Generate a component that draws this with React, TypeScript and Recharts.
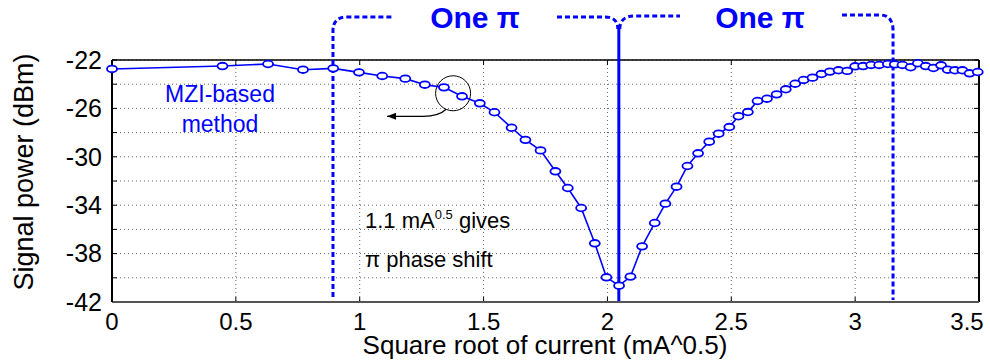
import React from 'react';
import { LineChart, Line, XAxis, YAxis, CartesianGrid, Customized } from 'recharts';

// measured sweep: sqrt of heater current vs. output power
const sqrtCurrent = [
  0, 0.446, 0.63, 0.771, 0.893, 0.997, 1.091, 1.184, 1.263, 1.34, 1.413, 1.485, 1.544, 1.613,
  1.669, 1.73, 1.79, 1.84, 1.894, 1.949, 1.996, 2.047, 2.093, 2.14, 2.191, 2.234, 2.279, 2.323,
  2.366, 2.411, 2.449, 2.492, 2.529, 2.567, 2.606, 2.644, 2.683, 2.72, 2.758, 2.792, 2.828, 2.864,
  2.898, 2.933, 2.968, 3.0, 3.032, 3.065, 3.097, 3.132, 3.16, 3.191, 3.224, 3.253, 3.285, 3.316,
  3.347, 3.374, 3.403, 3.433, 3.462, 3.495,
];
const signalDbm = [
  -22.74, -22.5, -22.33, -22.8, -22.69, -23.02, -23.32, -23.54, -24.04, -24.26, -25.0, -25.58, -26.32, -27.6,
  -28.6, -29.47, -31.2, -32.58, -34.23, -37.15, -39.96, -40.65, -39.9, -37.4, -35.47, -33.87, -32.47, -30.76,
  -29.71, -28.75, -28.09, -27.54, -26.65, -26.3, -25.39, -25.2, -24.84, -24.42, -23.96, -23.65, -23.46, -23.16,
  -22.96, -22.85, -22.9, -22.52, -22.5, -22.41, -22.41, -22.33, -22.36, -22.41, -22.6, -22.27, -22.5, -22.66,
  -22.44, -22.8, -22.85, -22.85, -23.1, -22.99,
];
const xTicks = [0, 0.5, 1, 1.5, 2, 2.5, 3, 3.5];
const yTicks = [-42, -40, -38, -36, -34, -32, -30, -28, -26, -24, -22];
const yLabelled = [-42, -38, -34, -30, -26, -22];
// bracket edges: start of sweep, null point, end of the second pi
const piMarks = [0.892, 2.046, 3.153];
const zoomSpot = { x: 1.377, y: -24.75 };

const data = sqrtCurrent.map((x, i) => ({ x, p: signalDbm[i] }));

const W = 990;
const H = 362;
const PLOT = { left: 112, top: 60, right: 979, bottom: 302 };
const X_DOMAIN: [number, number] = [0, 3.5];
const Y_DOMAIN: [number, number] = [-42, -22];
const BLUE = '#0000ff';
const FONT = '"Liberation Sans", Arial, Helvetica, sans-serif';

const px = (v: number) =>
  PLOT.left + ((v - X_DOMAIN[0]) / (X_DOMAIN[1] - X_DOMAIN[0])) * (PLOT.right - PLOT.left);
const py = (v: number) =>
  PLOT.bottom - ((v - Y_DOMAIN[0]) / (Y_DOMAIN[1] - Y_DOMAIN[0])) * (PLOT.bottom - PLOT.top);

const renderDot = (props: any) => {
  const { cx, cy, index } = props;
  return (
    <ellipse key={`dot-${index}`} cx={cx} cy={cy} rx={5} ry={3.3} fill="#fff" stroke={BLUE} strokeWidth={1.8} />
  );
};

// last label is pulled in so it stays inside the figure
const XTick = (props: any) => {
  const { x, y, payload } = props;
  const last = payload.value === X_DOMAIN[1];
  return (
    <text x={last ? x - 12 : x} y={y} dy="0.71em" textAnchor="middle" fontSize={24} fontFamily={FONT} fill="#000">
      {String(payload.value)}
    </text>
  );
};

const Overlay = () => {
  const [xl, xm, xr] = piMarks.map(px);
  const dash = { stroke: BLUE, strokeWidth: 3, strokeDasharray: '5 3', fill: 'none' };
  const cx = px(zoomSpot.x);
  const cy = py(zoomSpot.y);
  return (
    <g fontFamily={FONT}>
      <defs>
        <marker id="arrowHead" markerWidth={9} markerHeight={7} refX={9} refY={3.5} orient="auto" markerUnits="userSpaceOnUse">
          <path d="M0,0 L9,3.5 L0,7 z" fill="#000" />
        </marker>
      </defs>

      {/* box top / right and inward ticks */}
      <line x1={PLOT.left} y1={PLOT.top} x2={PLOT.right} y2={PLOT.top} stroke="#000" strokeWidth={1.5} />
      <line x1={PLOT.right} y1={PLOT.top} x2={PLOT.right} y2={PLOT.bottom} stroke="#000" strokeWidth={2} />
      {xTicks.map((t) => (
        <g key={`xt${t}`} stroke="#000" strokeWidth={1}>
          <line x1={px(t)} y1={PLOT.top} x2={px(t)} y2={PLOT.top + 5} />
          <line x1={px(t)} y1={PLOT.bottom} x2={px(t)} y2={PLOT.bottom - 5} />
        </g>
      ))}
      {yTicks.map((t) => (
        <g key={`yt${t}`} stroke="#000" strokeWidth={1}>
          <line x1={PLOT.left} y1={py(t)} x2={PLOT.left + 5} y2={py(t)} />
          <line x1={PLOT.right} y1={py(t)} x2={PLOT.right - 5} y2={py(t)} />
        </g>
      ))}

      {/* pi brackets */}
      <path d={`M${xl},${PLOT.bottom - 5} L${xl},31 Q${xl},17 ${xl + 14},17 L392,17`} {...dash} />
      <path d={`M557,17 L605,17 Q${xm - 1},17 ${xm - 1},29`} {...dash} />
      <path d={`M${xm + 1},29 Q${xm + 1},16 ${xm + 16},16 L680,16`} {...dash} />
      <path d={`M842,15 L880,15 Q${xr},15 ${xr},31 L${xr},${PLOT.bottom - 2}`} {...dash} />
      <line x1={xm} y1={28} x2={xm} y2={PLOT.bottom} stroke={BLUE} strokeWidth={3} />
      <text x={475} y={28} textAnchor="middle" fontSize={30} fontWeight="bold" fill={BLUE}>One π</text>
      <text x={760} y={28} textAnchor="middle" fontSize={30} fontWeight="bold" fill={BLUE}>One π</text>

      {/* method callout */}
      <text x={220} y={102} textAnchor="middle" fontSize={23} fill={BLUE}>MZI-based</text>
      <text x={220} y={132} textAnchor="middle" fontSize={23} fill={BLUE}>method</text>
      <circle cx={cx} cy={cy} r={17.5} fill="none" stroke="#000" strokeWidth={1} />
      <path
        d={`M${cx - 7},${cy + 16} Q${cx - 14},${cy + 23} ${cx - 30},${cy + 23} L387,${cy + 23}`}
        fill="none"
        stroke="#000"
        strokeWidth={1.2}
        markerEnd="url(#arrowHead)"
      />

      <text x={365} y={228} fontSize={22} fill="#000">
        1.1 mA
        <tspan dy={-9} fontSize={13}>0.5</tspan>
        <tspan dy={9} fontSize={22}> gives</tspan>
      </text>
      <text x={365} y={267} fontSize={22} fill="#000">π phase shift</text>

      {/* axis titles */}
      <text x={545} y={354} textAnchor="middle" fontSize={26} fill="#000">Square root of current (mA^0.5)</text>
      <text x={33} y={172} textAnchor="middle" fontSize={27} fill="#000" transform="rotate(-90, 33, 172)">
        Signal power (dBm)
      </text>
    </g>
  );
};

export default function App() {
  return (
    <div style={{ position: 'absolute', left: 0, top: 0, width: W, height: H, background: '#fff', fontFamily: FONT }}>
      <LineChart width={W} height={H} data={data} margin={{ top: 60, right: 11, bottom: 20, left: 52 }}>
        <CartesianGrid stroke="#666" strokeDasharray="1 3" />
        <XAxis
          type="number"
          dataKey="x"
          domain={X_DOMAIN}
          ticks={xTicks}
          height={40}
          tickLine={false}
          tickSize={0}
          tickMargin={11}
          axisLine={{ stroke: '#555', strokeWidth: 2 }}
          tick={<XTick />}
        />
        <YAxis
          type="number"
          domain={Y_DOMAIN}
          ticks={yTicks}
          width={60}
          interval={0}
          tickLine={false}
          tickSize={0}
          tickMargin={10}
          axisLine={{ stroke: '#000', strokeWidth: 2 }}
          tick={{ fill: '#000', fontSize: 25, fontFamily: FONT }}
          tickFormatter={(v: number) => (yLabelled.includes(v) ? String(v) : '')}
        />
        <Line
          type="linear"
          dataKey="p"
          stroke={BLUE}
          strokeWidth={1.6}
          dot={renderDot}
          activeDot={false}
          isAnimationActive={false}
        />
        <Customized component={Overlay} />
      </LineChart>
    </div>
  );
}
